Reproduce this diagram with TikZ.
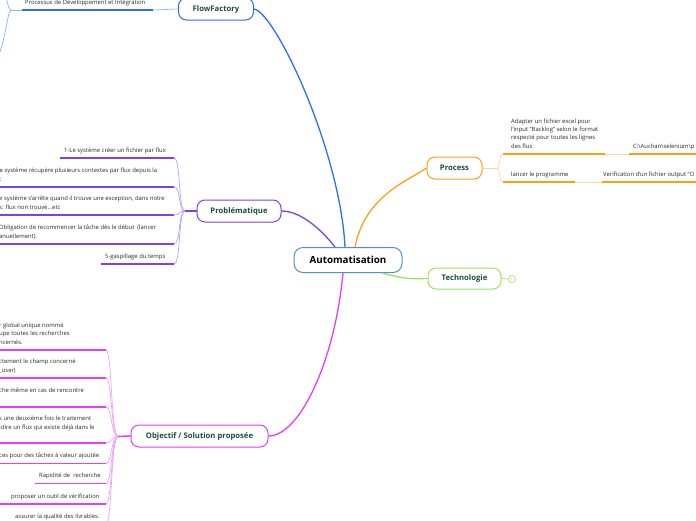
\documentclass[tikz,border=0pt]{standalone}
\usepackage{fontspec}
\setmainfont{Open Sans}
\definecolor{cblue}{HTML}{2F6BFF}
\definecolor{cbluel}{HTML}{8FB0FF}
\definecolor{cmain}{HTML}{4A90D9}
\definecolor{cpurple}{HTML}{7E3FF2}
\definecolor{cpurplel}{HTML}{BC9BFF}
\definecolor{corange}{HTML}{F8A21C}
\definecolor{corangel}{HTML}{FCD9A0}
\definecolor{cgreen}{HTML}{9DE35A}
\definecolor{cmag}{HTML}{E83CF5}
\definecolor{cmagl}{HTML}{F3A0FA}
\definecolor{ctitle}{HTML}{1E4D3B}
\definecolor{ctext}{HTML}{2A2A2A}
\tikzset{
  central/.style={draw=cmain, rounded corners=9pt, line width=1pt, fill=white, inner sep=0pt,
    minimum width=108pt, minimum height=25pt, font=\fontsize{9.8}{10}\selectfont\bfseries, text=black},
  topic/.style={rounded corners=8pt, line width=1pt, fill=white, inner sep=0pt,
    font=\fontsize{7.7}{8}\selectfont\bfseries, text=ctitle},
  leaf/.style={inner sep=0pt, anchor=south west, align=left, text=ctext,
    font=\fontsize{5.9}{8.4}\selectfont, execute at end node=\strut},
  uline/.style={line width=1.6pt},
  fork/.style={line width=0.7pt},
  mainlink/.style={line width=1.3pt}
}
\begin{document}
\begin{tikzpicture}[x=1pt,y=-1pt]
\useasboundingbox (0,0) rectangle (696,520);
\clip (0,0) rectangle (696,520);

% ---------- main nodes ----------
\node[central] (auto) at (348,260) {Automatisation};
\node[topic, draw=cblue, minimum width=75pt, minimum height=22pt] (ff) at (216,9) {FlowFactory};
\node[topic, draw=cpurple, minimum width=84pt, minimum height=22pt] (prob) at (239,211) {Problématique};
\node[topic, draw=corange, minimum width=55pt, minimum height=22pt] (proc) at (454.5,168) {Process};
\node[topic, draw=cgreen, minimum width=73pt, minimum height=21pt] (tech) at (464.5,278.5) {Technologie};
\node[draw=cgreen, circle, minimum size=7pt, inner sep=0pt, fill=white, line width=0.6pt, text=cgreen!70!black,
  font=\fontsize{3}{3}\selectfont] (techc) at (512,279) {1};
\node[topic, draw=cmag, minimum width=137pt, minimum height=22pt] (obj) at (199.5,436) {Objectif / Solution proposée};

% ---------- main connectors ----------
\draw[cblue, mainlink] (ff.east) .. controls (275,12) and (340,150) .. ([xshift=-3pt]auto.north);
\draw[cpurple, mainlink] (prob.east) .. controls (300,211) and (320,228) .. ([xshift=-13pt]auto.north);
\draw[corange, mainlink] ([xshift=7pt]auto.north) .. controls (365,195) and (410,180) .. (proc.west);
\draw[cgreen, mainlink] ([xshift=34pt]auto.south) .. controls (405,279) and (410,279) .. (tech.west);
\draw[cgreen, fork] (tech.east) -- (techc.west);
\draw[cmag, mainlink] ([xshift=-5pt]auto.south) .. controls (335,360) and (300,436) .. (obj.east);

% ---------- FlowFactory ----------
\coordinate (ffa) at (22,10);
\coordinate (ffb) at (153,10);
\coordinate (ffj) at (11,10);
\coordinate (ffu) at (5,-6);
\coordinate (ffd) at (0,52);
\draw[cblue, uline] (ffa) -- (ffb);
\draw[cbluel, fork] (ffb) -- (ff.west);
\draw[cbluel, fork] (ffa) -- (ffj);
\draw[cbluel, fork] (ffj) .. controls (8,10) and (8,2) .. (ffu);
\draw[cbluel, fork] (ffj) .. controls (8,10) and (7,30) .. (ffd);
\node[leaf] (fft) at (25,7) {Processus de Développement et Intégration};

% ---------- Problématique ----------
\coordinate (pj) at (185,211);
\draw[cpurple, uline] (pj) -- (prob.west);
\foreach \n/\l/\y in {1/60/158, 2/-5/187, 3/-5/215, 4/-5/244, 5/101/264}{
  \coordinate (pa\n) at (\l,\y);
  \coordinate (pb\n) at (174,\y);
  \draw[cpurple, uline] (pa\n) -- (pb\n);
  \draw[cpurplel, fork] (pb\n) .. controls (181,\y) and (178,211) .. (pj);
}
\node[leaf] (pt1) at (64,155) {1-Le système créer un fichier par flux};
\node[leaf] (pt2) at (-0.5,184) {e système récupère plusieurs contextes par flux depuis la\\:};
\node[leaf] (pt3) at (-1,212) {e système s'arrête quand il trouve une exception, dans notre\\s: flux non trouvé...etc};
\node[leaf] (pt4) at (-1,241) {Obligation de recommencer la tâche dès le début\ \ (lancer\\anuellement).};
\node[leaf] (pt5) at (105,261) {5-gaspillage du temps};

% ---------- Process ----------
\coordinate (rj) at (497,168);
\draw[corangel, fork] (proc.east) -- (rj);
\foreach \n/\r/\g/\y in {1/605/629/154, 2/575/602/182}{
  \coordinate (ra\n) at (503,\y);
  \coordinate (rb\n) at (\r,\y);
  \coordinate (rc\n) at (\g,\y);
  \coordinate (rd\n) at (700,\y);
  \draw[corangel, fork] (rj) .. controls (500,168) and (499,\y) .. (ra\n);
  \draw[corange, uline] (ra\n) -- (rb\n);
  \draw[corangel, fork] (rb\n) -- (rc\n);
  \draw[corange, uline] (rc\n) -- (rd\n);
}
\node[leaf] (rt1) at (511,151) {Adapter un fichier excel pour\\l'input "Backlog" selon le format\\respecté pour toutes les lignes\\des flux};
\node[leaf] (rt1b) at (633,151) {C:\textbackslash Auchan\textbackslash selenium\textbackslash p};
\node[leaf] (rt2) at (511,179) {lancer le programme};
\node[leaf] (rt2b) at (603,179) {Verification d'un fichier output "O};

% ---------- Objectif ----------
\coordinate (oj) at (118,436.5);
\draw[cmag, uline] (oj) -- (obj.west);
\foreach \n/\l/\y in {1/-5/350, 2/-5/378, 3/-5/407, 4/-5/443, 5/-5/463.5, 6/35/483.5, 7/0/504, 8/-5/524}{
  \coordinate (oa\n) at (\l,\y);
  \coordinate (ob\n) at (106,\y);
  \draw[cmag, uline] (oa\n) -- (ob\n);
  \draw[cmagl, fork] (ob\n) .. controls (112,\y) and (111,436.5) .. (oj);
}
\node[leaf] (ot1) at (-1,347) {r global unique nommé\\upe toutes les recherches\\ncernés.};
\node[leaf] (ot2) at (-1,375) {ctement le champ concerné\\\_user)};
\node[leaf] (ot3) at (-1,395) {che même en cas de rencontre};
\node[leaf] (ot4) at (-1,432) {s une deuxième fois le traitement\\-dire un flux qui existe déjà dans le};
\node[leaf] (ot5) at (-1,460.5) {ces pour des tâches à valeur ajoutée};
\node[leaf] (ot6) at (39,480.5) {Rapidité de\ \ recherche};
\node[leaf] (ot7) at (11,501) {proposer un outil de vérification};
\node[leaf] (ot8) at (15,521) {assurer la qualité des livrables.};
\end{tikzpicture}
\end{document}
